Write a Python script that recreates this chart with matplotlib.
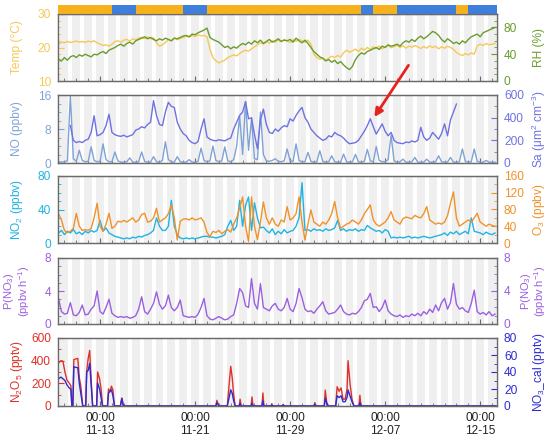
import matplotlib
matplotlib.use('Agg')
import matplotlib.pyplot as plt
from matplotlib.ticker import MultipleLocator
import matplotlib.dates as mdates
import numpy as np
import pandas as pd

plt.rcParams['font.family'] = 'Liberation Sans'
plt.rcParams['mathtext.fontset'] = 'custom'
plt.rcParams['mathtext.rm'] = 'Liberation Sans'
plt.rcParams['mathtext.it'] = 'Liberation Sans:italic'
plt.rcParams['font.size'] = 8.6

YEAR = '2019-'
# 6-hourly readings starting 11-09 12:00
t6 = pd.date_range(YEAR + '11-09 12:00', periods=148, freq='6h')

temp = [21.0, 21.6, 21.4, 21.8, 21.5, 21.7, 21.9, 21.6, 21.8, 21.5, 21.9, 21.7, 22.0, 21.4,
        21.0, 20.6, 20.8, 20.4, 21.0,
        21.8, 22.0, 21.6, 22.2, 22.4, 21.9, 22.6, 22.3, 22.8,
        23.0, 22.7, 23.2, 22.6, 22.9,
        21.4, 20.4, 20.8, 21.5,
        22.4, 22.0, 22.8, 22.3, 22.7, 23.0,
        23.4, 23.1, 23.6, 23.3, 23.8, 23.5, 23.6, 23.2,
        19.5,
        17.0, 16.0, 15.4, 15.8, 16.2,
        17.0, 17.4, 17.8, 17.5, 18.2,
        18.8, 19.2, 18.9, 19.6, 20.2, 20.8,
        21.4, 21.0, 21.8, 21.3, 22.0, 21.6, 22.2, 21.8, 22.4,
        22.0, 21.5, 22.3, 21.8, 22.5, 22.0, 21.6, 22.2,
        21.0,
        18.0, 17.0, 16.5, 16.8, 16.2, 16.8, 17.4, 17.0, 17.6, 17.2,
        18.4, 19.2, 18.6, 19.0,
        19.5, 18.8, 19.8, 19.2, 20.0, 19.4, 20.2,
        19.8, 20.4, 19.6, 20.2, 20.6, 19.9, 20.3, 20.7, 20.0, 20.5, 19.8, 20.4, 20.1, 20.6, 20.2, 19.7,
        20.3, 19.8, 20.5, 20.0, 20.4, 19.6, 20.2, 19.8, 20.4, 20.0, 19.5,
        18.5, 18.0, 17.6, 18.2, 17.8, 18.4, 18.0,
        20.5, 21.0, 20.6, 21.2, 20.8, 21.0, 21.2]

rh = [33, 30, 35, 31,
      36, 38, 35, 39, 37, 40, 38, 36, 40, 39,
      42, 44, 41, 46, 48,
      50, 53, 55, 52, 56, 58, 55, 60, 62,
      64, 66, 63, 65, 62,
      60, 63, 61, 64, 62, 60, 64, 63, 65,
      67, 68, 66, 70, 69,
      72, 74, 76, 79,
      65, 62, 60, 58,
      54, 50, 52, 48, 51, 49, 53,
      56, 54, 58, 55, 60, 57, 61, 56, 59, 62, 58, 60, 63, 59, 61,
      60, 62, 58, 64, 60, 57, 61, 56,
      50, 44, 40, 36,
      34, 30, 32, 28, 31, 26, 29, 24, 20, 17, 22,
      32, 38, 42, 40, 44, 46,
      48, 50, 47, 52, 50, 54, 52,
      53, 55, 52, 57, 60, 58,
      62, 59, 64, 67, 63, 66,
      70, 74, 72, 68,
      62, 58, 63, 60, 56, 58,
      55, 60, 57, 62, 66, 68,
      70, 66, 72, 74, 76, 78, 80]

no = [0.3, 0.2, 0.3, 0.5, 16, 1.0, 0.4, 3.0, 0.6, 0.3, 0.4, 3.8, 0.6, 0.3, 0.4, 4.5,
      0.8, 0.3, 0.3, 2.6, 0.5, 0.2, 0.2, 0.3, 1.2, 0.2, 0.2, 0.3, 2.6, 0.4, 0.2, 0.2,
      1.5, 0.3, 0.2, 0.6, 5.0, 0.8, 0.3, 0.2, 1.5, 0.3, 0.2, 0.2, 0.8, 0.2, 0.2, 0.4,
      3.5, 0.6, 0.3, 0.5, 4.0, 0.6, 0.3, 0.5, 3.8, 0.5, 0.3, 0.8, 4.0, 11.0, 2.0, 14.5,
      3.0, 10.5, 1.0, 0.8, 12.0, 2.0, 0.5, 0.4, 0.6, 1.0, 0.4, 0.3, 0.5, 3.3, 0.5, 0.4,
      4.5, 0.6, 0.3, 0.3, 2.5, 0.4, 0.2, 0.3, 2.9, 0.4, 0.2, 0.3, 1.7, 0.3, 0.2, 0.2,
      2.1, 0.3, 0.2, 0.3, 2.0, 0.3, 0.2, 0.4, 3.2, 0.5, 0.3, 3.9, 0.6, 0.3, 0.3, 0.8,
      6.5, 0.5, 0.2, 0.3, 0.9, 0.2, 0.2, 0.3, 1.3, 0.2, 0.2, 0.2, 0.9, 0.2, 0.2, 0.3,
      1.7, 0.3, 0.2, 0.2, 1.3, 0.2, 0.2, 0.3, 3.3, 0.4, 0.2, 0.3, 3.3, 0.4, 0.2, 0.2,
      0.6, 0.2, 0.2, 0.2]

sa = [np.nan, np.nan, np.nan, np.nan,
      330, 200, 180, 190, 180, 200, 210, 270, 417, 240, 250, 270, 330, 430, 270, 250,
      240, 235, 245, 230, 240, 250, 290, 300, 320, 310, 340, 360, 550, 420, 340, 330,
      450, 535, 500, 490, 360, 300, 260, 240, 200, 180, 170, 190, 300, 390, 230, 210,
      200, 195, 205, 200, 195, 210, 220, 300, 360, 420, 450, 540, 390, 400, 250, 125,
      380, 475, 340, 270, 260, 300, 280, 310, 330, 320, 390, 370, 420, 460, 490, 400,
      360, 300, 270, 240, 220, 200, 210, 240, 230, 270, 250, 240, 220, 190, 170, 175,
      180, 200, 240, 280, 330, 390, 320, 255, 300, 345, 280, 240, 270, 200, 180, 175,
      170, 185, 180, 195, 185, 200, 315, 230, 200, 220, 270, 240, 210, 260, 345, 240,
      380, 450, 520,
      np.nan, np.nan, np.nan, np.nan, np.nan, np.nan, np.nan, np.nan, np.nan, np.nan,
      np.nan, np.nan, np.nan]

no2 = [12, 15, 10, 14, 12, 16, 11, 13, 10, 14, 12, 15, 13,
       15, 27, 14, 18, 12, 10,
       8, 7, 6, 5, 6, 5, 7, 6, 8, 7, 9, 10, 12, 15,
       30, 20, 15, 15, 20, 51, 20, 10,
       6, 5, 6, 5, 6, 5, 6, 7, 8,
       8, 7, 7, 6, 7, 8, 10,
       20, 27, 15, 20, 51, 20, 45, 55, 15, 48, 30, 18, 19,
       15, 12, 17, 10, 14, 11, 16, 12, 14,
       15, 20, 30, 72, 15,
       16, 14, 17, 15, 16, 14, 17, 15, 16,
       18, 27,
       15, 17, 14, 16, 15, 17, 14, 16, 15,
       21, 18, 16, 14, 15, 12, 16, 14, 6,
       7, 6, 7, 6, 7, 8, 6, 7, 6, 7, 8, 7, 6, 7, 8, 9,
       10, 12, 9, 13, 11, 14, 10, 12, 14, 11,
       30, 14, 13,
       12, 10, 13, 11, 10, 12]

o3 = [70, 55, 30, 25, 28, 35, 71, 40, 30, 32, 30, 35, 60, 95, 40, 28,
      45, 71, 35, 40, 52, 50, 54, 50, 55, 60, 50, 55, 68, 71, 50, 52,
      60, 83, 50, 55, 60, 70, 91, 60, 7, 52, 57, 58, 55, 60, 55, 57,
      60, 50, 25, 15, 28, 25, 30, 22, 28, 32, 26, 45, 60, 83, 110, 40,
      3, 110, 40, 8, 50, 98, 60, 45, 60, 45, 40, 55, 50, 87, 55, 60,
      70, 110, 50, 7, 45, 79, 50, 45, 40, 50, 45, 55, 70, 99, 60, 35,
      40, 45, 48, 55, 50, 45, 55, 70, 80, 91, 55, 45, 40, 45, 50, 60,
      75, 55, 50, 45, 58, 62, 60, 58, 66, 62, 60, 70, 87, 55, 50, 45,
      48, 45, 50, 65, 95, 122, 60, 40, 45, 50, 55, 50, 60, 71, 50, 45,
      40, 45, 42, 40]

pno3 = [3.1, 1.5, 1.2, 1.3, 2.6, 1.1, 1.0, 1.4, 2.3, 1.1, 1.2, 1.8, 2.2, 4.0, 1.5, 1.2,
        2.0, 3.0, 1.3, 1.0, 0.8, 0.9, 0.8, 0.9, 0.7, 0.8, 1.0, 1.8, 3.3, 1.5, 1.2, 1.8,
        2.5, 3.9, 2.4, 1.8, 2.2, 3.5, 2.0, 1.6, 2.0, 2.9, 1.0, 0.9, 0.8, 0.9, 0.8, 1.2,
        2.0, 3.1, 1.0, 0.6, 0.5, 0.7, 0.9, 0.7, 0.5, 0.6, 0.9, 1.1, 2.5, 4.3, 3.8, 2.2,
        2.0, 5.5, 2.5, 1.8, 4.9, 2.0, 1.8, 1.6, 2.2, 2.5, 1.8, 1.6, 2.0, 3.1, 1.8, 1.5,
        2.5, 4.3, 3.2, 1.8, 1.5, 1.6, 1.3, 1.8, 2.2, 2.7, 1.6, 1.2, 1.3, 1.4, 1.8, 2.3,
        1.5, 1.2, 1.1, 1.3, 1.2, 1.5, 2.0, 2.8, 3.0, 3.7, 2.0, 2.1, 1.5, 2.0, 2.9, 1.6,
        1.2, 1.0, 0.9, 1.1, 0.8, 1.0, 0.9, 1.2, 1.0, 1.3, 1.0, 1.5, 1.2, 1.8, 1.4, 2.3,
        1.6, 2.6, 3.1, 1.8, 2.6, 4.9, 2.4, 1.8, 2.0, 1.6, 1.4, 2.5, 4.1, 1.5, 1.2, 1.4,
        1.1, 1.5, 1.0, 1.2]

# night-time N2O5 / NO3 bursts (zero elsewhere)
n2o5_time = ['11-09 12:00', '11-09 17:00', '11-09 21:00', '11-10 01:00', '11-10 05:00',
             '11-10 10:00', '11-10 13:00', '11-10 15:00', '11-10 17:00', '11-10 19:00',
             '11-11 03:00', '11-11 06:00', '11-11 09:00', '11-11 13:00', '11-11 19:00',
             '11-11 21:00', '11-12 00:00', '11-12 03:00', '11-12 06:00', '11-12 09:00',
             '11-12 17:00', '11-12 19:00', '11-12 23:00', '11-13 02:00', '11-13 05:00',
             '11-13 15:00', '11-13 17:00', '11-13 20:00', '11-13 23:00', '11-14 02:00',
             '11-14 05:00', '11-14 17:00', '11-14 20:00', '11-14 23:00', '11-22 18:00',
             '11-22 20:00', '11-23 00:00', '11-23 17:00', '11-23 20:00', '11-24 00:00',
             '11-24 03:00', '11-24 06:00', '11-24 09:00', '11-24 17:00', '11-24 19:00',
             '11-24 21:00', '11-25 17:00', '11-25 19:00', '11-25 21:00', '11-26 15:00',
             '11-26 17:00', '11-26 19:00', '11-27 09:00', '11-27 11:00', '11-27 13:00',
             '11-28 08:00', '11-28 10:00', '11-28 12:00', '12-01 00:00', '12-01 02:00',
             '12-01 04:00', '12-01 21:00', '12-01 23:00', '12-02 02:00', '12-02 05:00',
             '12-02 20:00', '12-02 23:00', '12-03 03:00', '12-03 07:00', '12-03 11:00',
             '12-03 15:00', '12-03 19:00', '12-03 21:00', '12-04 01:00', '12-04 05:00',
             '12-04 09:00', '12-04 19:00', '12-04 21:00', '12-04 23:00', '12-16 08:00']
n2o5 = [380, 400, 395, 300, 230, 200, 180, 0, 0, 410,
        420, 250, 180, 0, 0, 310, 420, 490, 230, 0,
        0, 300, 240, 150, 0, 0, 150, 130, 175, 140,
        0, 0, 70, 0, 0, 50, 0, 0, 150, 350,
        250, 100, 0, 0, 60, 0, 0, 80, 0, 0,
        115, 0, 0, 20, 0, 0, 15, 0, 0, 30,
        0, 0, 140, 30, 0, 0, 170, 130, 160, 60,
        60, 150, 400, 200, 60, 0, 0, 95, 0, 0]
no3_cal = [32, 34, 32, 30, 25, 21, 20, 0, 0, 46,
           45, 27, 15, 0, 0, 40, 42, 50, 25, 0,
           0, 27, 20, 10, 0, 0, 15, 17, 19, 12,
           0, 0, 9, 0, 0, 4, 0, 0, 8, 19,
           15, 6, 0, 0, 3, 0, 0, 3, 0, 0,
           6, 0, 0, 1, 0, 0, 1, 0, 0, 2,
           0, 0, 9, 3, 0, 0, 12, 10, 12, 5,
           5, 10, 19, 12, 5, 0, 0, 4, 0, 0]

# pollution / clean period bar on top
period_start = ['11-09 11:00', '11-14 00:00', '11-16 00:00', '11-20 00:00', '11-22 00:00',
                '12-05 00:00', '12-06 00:00', '12-08 00:00', '12-13 00:00', '12-14 00:00']
period_end = ['11-14 00:00', '11-16 00:00', '11-20 00:00', '11-22 00:00', '12-05 00:00',
              '12-06 00:00', '12-08 00:00', '12-13 00:00', '12-14 00:00', '12-16 10:00']
period_color = ['#f5b21e', '#3f7fdc'] * 5

tick_dates = ['11-13', '11-21', '11-29', '12-07', '12-15']

C_TEMP, C_RH = '#f5c955', '#6a9c2c'
C_NO, C_SA = '#7fa3d6', '#6e72e2'
C_NO2, C_O3 = '#1fb4e4', '#f0922a'
C_P = '#9b5fe0'
C_N2O5, C_NO3 = '#e0302a', '#2b2bd4'
C_SPINE = '#6a6a6a'


def d(s):
    return pd.Timestamp(YEAR + s)


fig = plt.figure(figsize=(5.49, 4.42), dpi=100)


def box(top, bottom):
    return [58 / 549, 1 - bottom / 442, 439 / 549, (bottom - top) / 442]


xmin, xmax = d('11-09 11:00'), d('12-16 10:00')
nights = pd.date_range(YEAR + '11-08 16:00', YEAR + '12-16 16:00', freq='D')


def panel(top, bottom, lc, rc, llim, rlim, lmaj, lmin, rmaj, rmin, llab, rlab, lfs=8.6):
    ax = fig.add_axes(box(top, bottom))
    ax.set_xlim(xmin, xmax)
    for n in nights:
        ax.axvspan(n, n + pd.Timedelta(hours=16), color='#efefef', lw=0, zorder=0)
    axr = ax.twinx()
    for a, c, lim, mj, mn, lab, x in [(ax, lc, llim, lmaj, lmin, llab, -0.093),
                                     (axr, rc, rlim, rmaj, rmin, rlab, 1.096)]:
        a.set_ylim(*lim)
        a.yaxis.set_major_locator(MultipleLocator(mj))
        a.yaxis.set_minor_locator(MultipleLocator(mn))
        a.tick_params(axis='y', which='both', direction='in', colors=c, labelsize=8.6, pad=5)
        a.tick_params(axis='y', which='major', length=4)
        a.tick_params(axis='y', which='minor', length=2.5)
        a.set_ylabel(lab, color=c, fontsize=lfs, va='center', ha='center', linespacing=1.0)
        a.yaxis.set_label_coords(x, 0.5)
        for s in a.spines.values():
            s.set_color(C_SPINE)
            s.set_linewidth(0.9)
    ax.set_xticks([d(t) for t in tick_dates])
    ax.xaxis.set_minor_locator(mdates.DayLocator())
    ax.tick_params(axis='x', which='both', direction='in', colors=C_SPINE, labelbottom=False)
    ax.tick_params(axis='x', which='major', length=3.5)
    ax.tick_params(axis='x', which='minor', length=2)
    return ax, axr


ax1, ax1r = panel(14, 81, C_TEMP, C_RH, (10, 30), (0, 100), 10, 2, 40, 10, 'Temp (°C)', 'RH (%)')
ax1.plot(t6, temp, color=C_TEMP, lw=1.0)
ax1r.plot(t6, rh, color=C_RH, lw=1.0)

ax2, ax2r = panel(95, 163, C_NO, C_SA, (0, 16), (0, 600), 8, 2, 200, 100,
                  'NO (ppbv)', 'Sa (μm$^2$ cm$^{-3}$)')
ax2.plot(t6, no, color=C_NO, lw=1.0)
ax2r.plot(t6, sa, color=C_SA, lw=1.0)

ax3, ax3r = panel(176, 243, C_NO2, C_O3, (0, 80), (0, 160), 40, 10, 40, 20,
                  'NO$_2$ (ppbv)', 'O$_3$ (ppbv)')
ax3.plot(t6, no2, color=C_NO2, lw=1.0)
ax3r.plot(t6, o3, color=C_O3, lw=1.0)

plab = 'P(NO$_3$)\n(ppbv h$^{-1}$)'
ax4, ax4r = panel(258, 324, C_P, C_P, (0, 8), (0, 8), 4, 1, 4, 1, plab, plab, lfs=8.0)
ax4r.yaxis.set_label_coords(1.083, 0.5)
ax4.plot(t6, pno3, color=C_P, lw=1.0)

ax5, ax5r = panel(338, 406, C_N2O5, C_NO3, (0, 600), (0, 80), 200, 100, 20, 10,
                  'N$_2$O$_5$ (pptv)', 'NO$_3$_cal (pptv)')
tn = [d(t) for t in n2o5_time]
ax5.plot(tn, n2o5, color=C_N2O5, lw=1.0)
ax5r.plot(tn, no3_cal, color=C_NO3, lw=1.0)
ax5.tick_params(axis='x', which='major', labelbottom=True, labelcolor='#222222',
                labelsize=8.6, pad=4)
ax5.xaxis.set_major_formatter(mdates.DateFormatter('%H:%M\n%m-%d'))

# top period bar
axb = fig.add_axes(box(5, 14))
axb.set_xlim(xmin, xmax)
axb.set_ylim(0, 1)
for s, e, c in zip(period_start, period_end, period_color):
    axb.axvspan(d(s), d(e), color=c, lw=0)
axb.set_xticks([])
axb.set_yticks([])
for k, s in axb.spines.items():
    s.set_visible(k == 'bottom')
    s.set_color(C_SPINE)

# arrow pointing at the Sa peak
ax2r.annotate('', xy=(d('12-05 23:00'), 385), xycoords='data',
              xytext=(410 / 549, 1 - 63 / 442), textcoords='figure fraction',
              arrowprops=dict(arrowstyle='-|>', color='#e8221c', lw=2.0, mutation_scale=12),
              annotation_clip=False)

fig.savefig('out.png', dpi=100)
